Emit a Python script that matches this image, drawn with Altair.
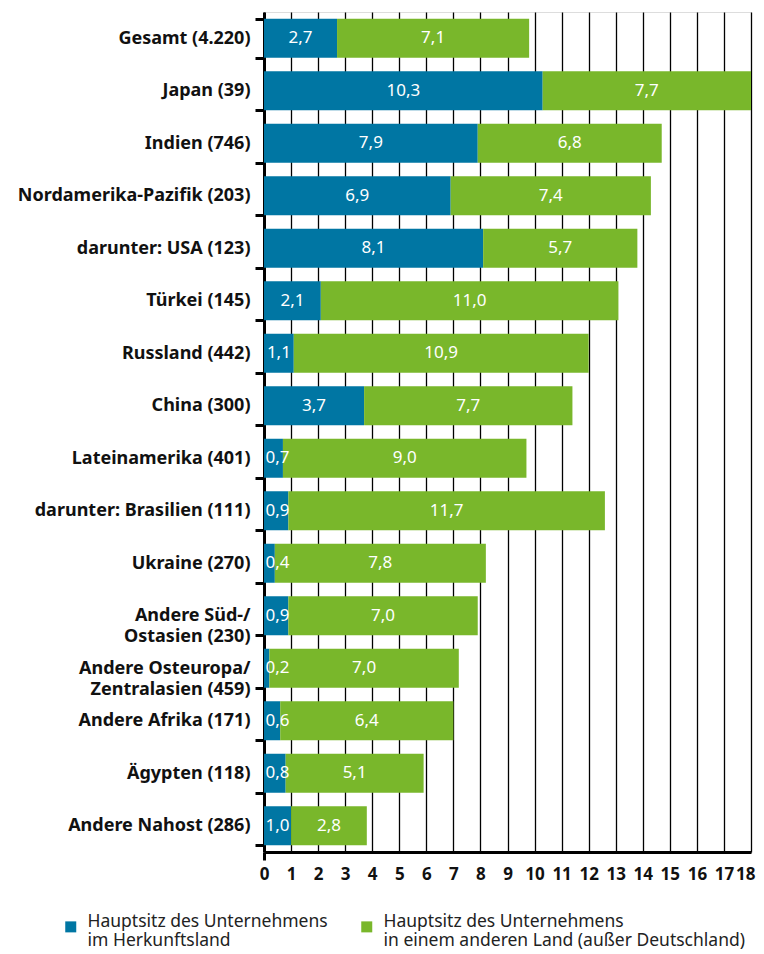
import altair as alt
import pandas as pd

categories = [
    "Gesamt (4.220)", "Japan (39)", "Indien (746)", "Nordamerika-Pazifik (203)",
    "darunter: USA (123)", "Türkei (145)", "Russland (442)", "China (300)",
    "Lateinamerika (401)", "darunter: Brasilien (111)", "Ukraine (270)",
    "Andere Süd-/|Ostasien (230)", "Andere Osteuropa/|Zentralasien (459)",
    "Andere Afrika (171)", "Ägypten (118)", "Andere Nahost (286)",
]
home_country = [2.7, 10.3, 7.9, 6.9, 8.1, 2.1, 1.1, 3.7, 0.7, 0.9, 0.4, 0.9, 0.2, 0.6, 0.8, 1.0]
other_country = [7.1, 7.7, 6.8, 7.4, 5.7, 11.0, 10.9, 7.7, 9.0, 11.7, 7.8, 7.0, 7.0, 6.4, 5.1, 2.8]
series_names = [
    "Hauptsitz des Unternehmens|im Herkunftsland",
    "Hauptsitz des Unternehmens|in einem anderen Land (außer Deutschland)",
]
colors = ["#0076A3", "#79B72B"]
x_ticks = list(range(0, 19))

rows = []
for c, h, o in zip(categories, home_country, other_country):
    rows.append({"cat": c, "series": series_names[0], "start": 0.0, "end": h, "v": h,
                 "pos": max(h / 2, 0.5)})
    rows.append({"cat": c, "series": series_names[1], "start": h, "end": h + o, "v": o,
                 "pos": h + o / 2})
df = pd.DataFrame(rows)

FONT = "Noto Sans"

y_axis = alt.Axis(
    title=None, labelExpr="split(datum.label, '|')",
    labelFont=FONT, labelFontWeight="bold", labelFontSize=18, labelColor="#111",
    labelLineHeight=21, labelPadding=5, labelLimit=300,
    domainColor="black", domainWidth=3, tickColor="black", tickWidth=3,
    tickSize=9, tickBand="extent", grid=False,
)
y_scale = alt.Scale(paddingInner=0.25, paddingOuter=0.125)
x_axis = alt.Axis(
    title=None, values=x_ticks, tickCount=40, format="d",
    labelOverlap=False, labelFlush=False,
    labelFont=FONT, labelFontWeight="bold",
    labelFontSize=17, labelColor="#111", labelPadding=6,
    labelAlign={"condition": {"test": "datum.value === 18", "value": "right"},
                "value": "center"},
    labelOffset={"condition": {"test": "datum.value === 18", "value": 4},
                 "value": 0},
    domainColor="black", domainWidth=3,
    grid=True, gridColor="black", gridWidth=1.3,
    tickSize=8, tickWidth=3,
    tickColor={"condition": {"test": "datum.value === 0", "value": "black"},
               "value": "transparent"},
)
x_scale = alt.Scale(domain=[0, 18], nice=False)

bars = alt.Chart(df).mark_bar(size=39).encode(
    x=alt.X("start:Q", scale=x_scale, axis=x_axis),
    x2="end:Q",
    y=alt.Y("cat:N", sort=categories, scale=y_scale, axis=y_axis),
    color=alt.Color(
        "series:N", sort=series_names,
        scale=alt.Scale(domain=series_names, range=colors),
        legend=alt.Legend(
            title=None, orient="none", legendX=-202, legendY=906,
            direction="horizontal", columns=2, columnPadding=30,
            symbolType="square", symbolSize=121, symbolStrokeWidth=0,
            labelExpr="split(datum.label, '|')", labelFont=FONT, labelFontSize=17.5,
            labelColor="#222", labelLimit=500, labelOffset=8, labelBaseline="alphabetic",
            symbolOffset=0,
        ),
    ),
)

labels = alt.Chart(df).mark_text(
    color="white", font=FONT, fontSize=17, align="center", baseline="middle"
).encode(
    x=alt.X("pos:Q", scale=x_scale, axis=x_axis),
    y=alt.Y("cat:N", sort=categories, scale=y_scale, axis=y_axis),
    text=alt.Text("lbl:N"),
).transform_calculate(lbl="replace(format(datum.v, '.1f'), '.', ',')")

chart = alt.layer(bars, labels).properties(
    width=487, height=840,
    autosize=alt.AutoSizeParams(type="none"),
    padding={"left": 256, "top": 4, "right": 5, "bottom": 102},
).configure_view(stroke=None).configure(background="white")

chart.save("out.html", embed_options={"renderer": "svg", "actions": False})
